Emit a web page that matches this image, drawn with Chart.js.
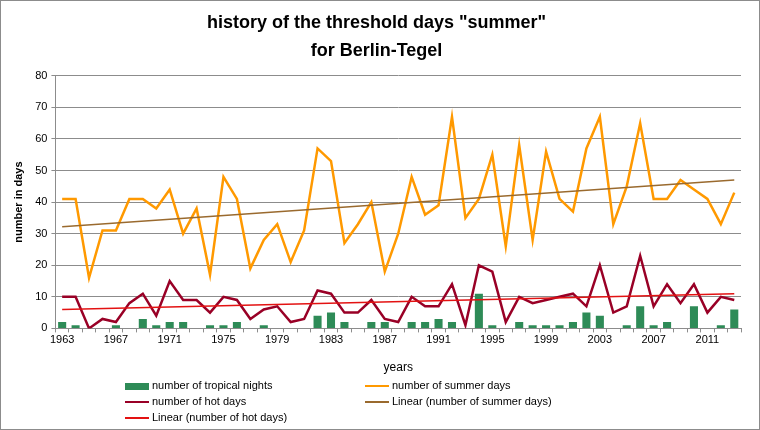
<!DOCTYPE html>
<html>
<head>
<meta charset="utf-8">
<script src="https://cdn.jsdelivr.net/npm/chart.js@4"></script>
<style>
    html, body { margin: 0; padding: 0; background: #fff; }
    #wrap { position: relative; width: 758px; height: 428px; border: 1px solid #8c8c8c; }
    #legend { position: absolute; left: 0; top: 376px; width: 758px; font-family: "Liberation Sans", Arial, sans-serif; font-size: 11px; color: #000; }
    .item { position: absolute; height: 16px; line-height: 16px; white-space: nowrap; }
    .sw { display: inline-block; vertical-align: middle; width: 24px; margin-right: 3px; }
</style>
</head>
<body>
<div id="wrap">
    <canvas id="chart_summerDays" width="758" height="428"></canvas>
    <div id="legend"></div>
</div>
<script>
    const years = [];
    for (let y = 1963; y <= 2013; y++) {
        years.push(y);
    }

    const summerDays = [41, 41, 16, 31, 31, 41, 41, 38, 44, 30,
        38, 17, 48, 41, 19, 28, 33, 21, 31, 57,
        53, 27, 33, 40, 18, 30, 48, 36, 39, 67,
        35, 41, 55, 26, 58, 28, 56, 41, 37, 57,
        67, 33, 45, 65, 41, 41, 47, 44, 41, 33,
        43];

    const hotDays = [10, 10, 0, 3, 2, 8, 11, 4, 15, 9,
        9, 5, 10, 9, 3, 6, 7, 2, 3, 12,
        11, 5, 5, 9, 3, 2, 10, 7, 7, 14,
        1, 20, 18, 2, 10, 8, 9, 10, 11, 7,
        20, 5, 7, 23, 7, 14, 8, 14, 5, 10,
        9];

    const tropicalNights = [2, 1, 0, 0, 1, 0, 3, 1, 2, 2,
        0, 1, 1, 2, 0, 1, 0, 0, 0, 4,
        5, 2, 0, 2, 2, 0, 2, 2, 3, 2,
        0, 11, 1, 0, 2, 1, 1, 1, 2, 5,
        4, 0, 1, 7, 1, 2, 0, 7, 0, 1,
        6];

    // trend line end values (1963 and 2013)
    const summerTrendEnds = [32.2, 47];
    const hotTrendEnds = [6, 11];

    const yTicks = [0, 10, 20, 30, 40, 50, 60, 70, 80];

    function endsToSeries(ends) {
        let s = years.map(function () { return null; });
        s[0] = ends[0];
        s[s.length - 1] = ends[1];
        return s;
    }

    const colors = {
        tropical: '#2e8b57',
        summer: '#ff9900',
        hot: '#990026',
        summerTrend: '#9a6a2e',
        hotTrend: '#e31212'
    };

    const data = {
        labels: years,
        datasets: [
            {
                type: 'line',
                label: 'number of summer days',
                data: summerDays,
                borderColor: colors.summer,
                borderWidth: 2.5,
                pointRadius: 0,
                tension: 0,
                order: 3
            },
            {
                type: 'line',
                label: 'Linear (number of summer days)',
                data: endsToSeries(summerTrendEnds),
                borderColor: colors.summerTrend,
                borderWidth: 1.5,
                pointRadius: 0,
                spanGaps: true,
                order: 2
            },
            {
                type: 'line',
                label: 'number of hot days',
                data: hotDays,
                borderColor: colors.hot,
                borderWidth: 2.5,
                pointRadius: 0,
                tension: 0,
                order: 1
            },
            {
                type: 'line',
                label: 'Linear (number of hot days)',
                data: endsToSeries(hotTrendEnds),
                borderColor: colors.hotTrend,
                borderWidth: 1.5,
                pointRadius: 0,
                spanGaps: true,
                order: 0
            },
            {
                type: 'bar',
                label: 'number of tropical nights',
                data: tropicalNights,
                backgroundColor: colors.tropical,
                barPercentage: 0.6,
                categoryPercentage: 1,
                order: 5
            }
        ]
    };

    const tickFont = { family: '"Liberation Sans", Arial, sans-serif', size: 11 };

    const config = {
        type: 'bar',
        data: data,
        options: {
            responsive: false,
            animation: false,
            layout: {
                padding: { left: 11, right: 18, top: 6, bottom: 54 }
            },
            plugins: {
                legend: { display: false },
                tooltip: { enabled: false },
                title: {
                    display: true,
                    text: ['history of the threshold days "summer"', 'for Berlin-Tegel'],
                    color: '#000',
                    font: { family: '"Liberation Sans", Arial, sans-serif', size: 18, weight: 'bold', lineHeight: 1.55 },
                    padding: { top: 2, bottom: 11 }
                }
            },
            scales: {
                x: {
                    offset: true,
                    grid: {
                        offset: true,
                        drawOnChartArea: false,
                        drawTicks: true,
                        tickLength: 4,
                        color: '#8c8c8c'
                    },
                    border: { color: '#8c8c8c' },
                    ticks: {
                        autoSkip: false,
                        maxRotation: 0,
                        color: '#000',
                        font: tickFont,
                        padding: 1,
                        callback: function (value, index) {
                            return (years[index] - 1963) % 4 === 0 ? String(years[index]) : '';
                        }
                    },
                    title: {
                        display: true,
                        text: 'years',
                        color: '#000',
                        font: { family: '"Liberation Sans", Arial, sans-serif', size: 12 },
                        padding: { top: 13, bottom: 0 }
                    }
                },
                y: {
                    min: 0,
                    max: 80,
                    afterBuildTicks: function (axis) {
                        axis.ticks = yTicks.map(function (v) { return { value: v }; });
                    },
                    grid: {
                        color: '#8c8c8c',
                        tickLength: 4
                    },
                    border: { color: '#8c8c8c' },
                    ticks: {
                        color: '#000',
                        font: tickFont,
                        padding: 4
                    },
                    title: {
                        display: true,
                        text: 'number in days',
                        color: '#000',
                        font: { family: '"Liberation Sans", Arial, sans-serif', size: 11, weight: 'bold' },
                        padding: { top: 0, bottom: 6 }
                    }
                }
            }
        }
    };

    const myChart = new Chart(document.getElementById('chart_summerDays'), config);

    // legend laid out in two columns like the original
    const legendItems = [
        { text: 'number of tropical nights', color: colors.tropical, bar: true, col: 0, row: 0 },
        { text: 'number of summer days', color: colors.summer, col: 1, row: 0 },
        { text: 'number of hot days', color: colors.hot, col: 0, row: 1 },
        { text: 'Linear (number of summer days)', color: colors.summerTrend, col: 1, row: 1 },
        { text: 'Linear (number of hot days)', color: colors.hotTrend, col: 0, row: 2 }
    ];
    const legend = document.getElementById('legend');
    legendItems.forEach(function (it) {
        const div = document.createElement('div');
        div.className = 'item';
        div.style.left = (it.col === 0 ? 124 : 364) + 'px';
        div.style.top = (it.row * 16) + 'px';
        const sw = document.createElement('span');
        sw.className = 'sw';
        sw.style.height = it.bar ? '7px' : '2px';
        sw.style.background = it.color;
        div.appendChild(sw);
        div.appendChild(document.createTextNode(it.text));
        legend.appendChild(div);
    });
</script>
</body>
</html>
